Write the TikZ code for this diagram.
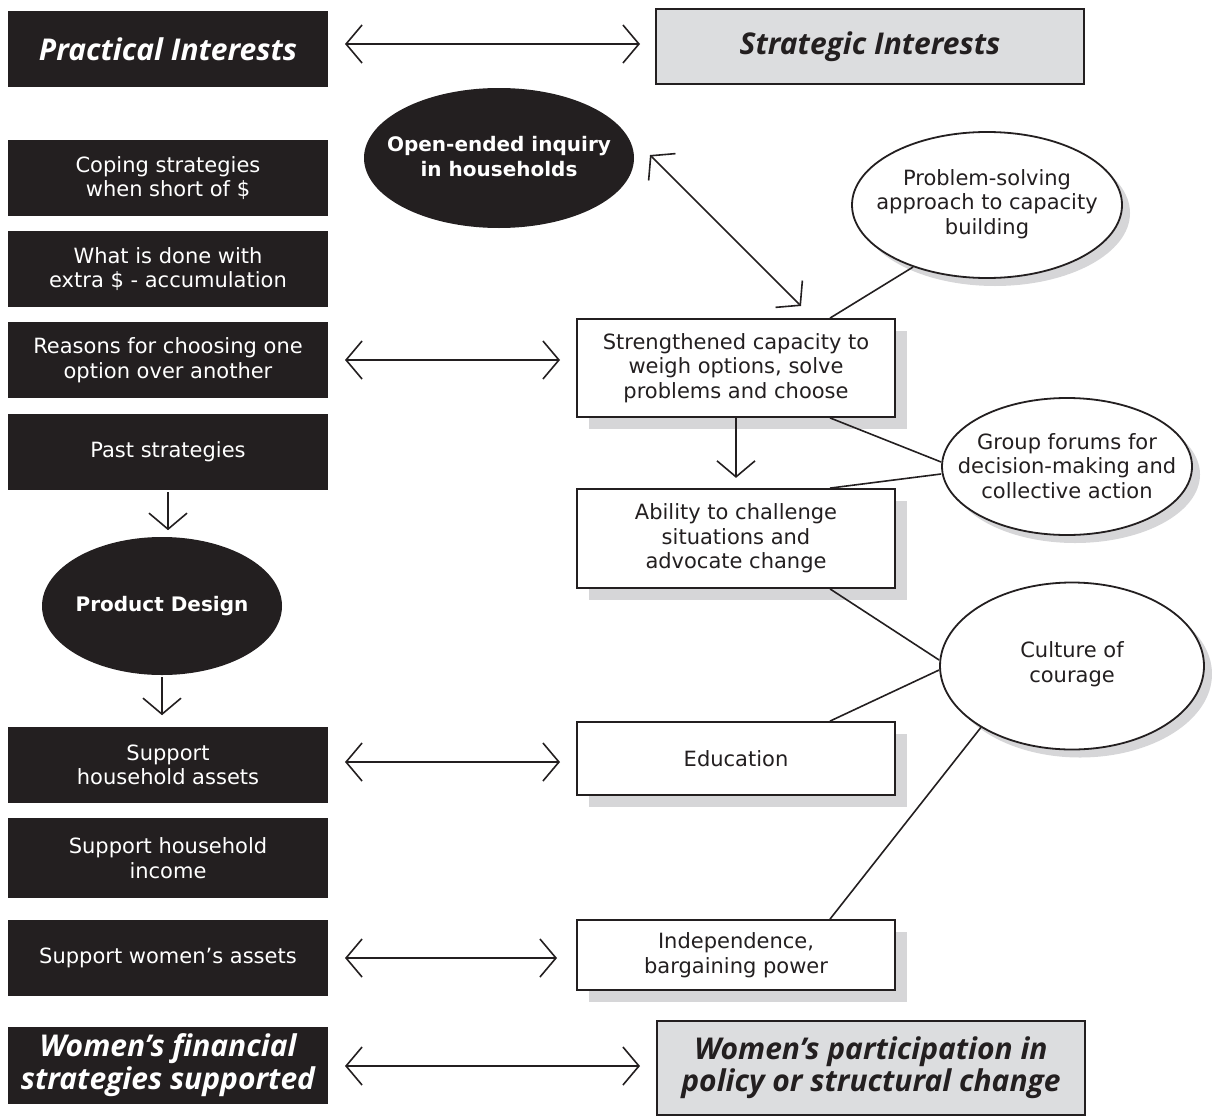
\documentclass[tikz,border=0pt]{standalone}
\usepackage{fontspec}
\setmainfont{DejaVu Sans}
\newfontfamily\titlefont{Open Sans}
\usetikzlibrary{arrows.meta,shadows,shapes.geometric}
\definecolor{boxblack}{HTML}{231F20}
\definecolor{boxgray}{HTML}{DCDDDF}
\definecolor{shadowgray}{HTML}{D6D6D8}
\tikzset{
  bodyfont/.style={font=\fontsize{21}{24.5}\selectfont},
  blackbox/.style={rectangle,fill=boxblack,text=white,minimum width=320pt,minimum height=76pt,inner sep=0pt,align=center,bodyfont},
  titlebox/.style={blackbox,font=\titlefont\fontsize{30}{33}\selectfont\bfseries\itshape},
  graybox/.style={rectangle,fill=boxgray,draw=boxblack,line width=2pt,minimum width=428pt,minimum height=75pt,inner sep=0pt,align=center,text=boxblack,font=\titlefont\fontsize{30}{32}\selectfont\bfseries\itshape},
  whitebox/.style={rectangle,fill=white,draw=boxblack,line width=1.8pt,minimum width=318pt,inner sep=0pt,align=center,text=boxblack,bodyfont,
    drop shadow={shadow xshift=12pt,shadow yshift=-12pt,fill=shadowgray,opacity=1}},
  blackell/.style={ellipse,fill=boxblack,inner sep=0pt},
  whiteell/.style={ellipse,fill=white,draw=boxblack,line width=1.8pt,inner sep=0pt,
    drop shadow={shadow xshift=8pt,shadow yshift=-8pt,fill=shadowgray,opacity=1}},
  blacktext/.style={text=white,align=center,inner sep=0pt,font=\fontsize{20}{25}\selectfont\bfseries},
  whitetext/.style={text=boxblack,align=center,inner sep=0pt,bodyfont},
  barb/.tip={Straight Barb[length=16pt,width=38pt,line width=1.6pt]},
  biarrow/.style={line width=1.6pt,draw=boxblack,{barb}-{barb}},
  downarrow/.style={line width=1.6pt,draw=boxblack,-{barb}},
  link/.style={line width=1.6pt,draw=boxblack},
}
\begin{document}
\begin{tikzpicture}[x=1pt,y=-1pt]
\useasboundingbox (0,0) rectangle (1212,1116);
% left column
\node[titlebox] (pi) at (168,49) {Practical Interests};
\node[graybox] (si) at (870,46.5) {Strategic Interests};
\node[blackbox] (cope) at (168,178) {Coping strategies\\when short of \$};
\node[blackbox] (extra) at (168,269) {What is done with\\extra \$ - accumulation};
\node[blackbox] (reas) at (168,360) {Reasons for choosing one\\option over another};
\node[blackbox] (past) at (168,452) {Past strategies};
\node[blackell,minimum width=240pt,minimum height=138pt] (pd) at (162,606) {};
\node[blacktext] (pdt) at (pd) {Product Design};
\node[blackbox] (sha) at (168,765) {Support\\household assets};
\node[blackbox,minimum height=80pt] (shi) at (168,858) {Support household\\income};
\node[blackbox] (swa) at (168,958) {Support women’s assets};
\node[titlebox,minimum height=77pt] (wfs) at (168,1065.5) {Women’s financial\\strategies supported};
\node[graybox,minimum height=94pt] (wp) at (871,1068) {Women’s participation in\\policy or structural change};
% middle
\node[blackell,minimum width=270pt,minimum height=140pt] (oe) at (499,158) {};
\node[blacktext] (oet) at (499,157) {Open-ended inquiry\\in households};
\node[whitebox,minimum height=98pt] (sc) at (736,368) {Strengthened capacity to\\weigh options, solve\\problems and choose};
\node[whitebox,minimum height=99pt] (ab) at (736,538.5) {Ability to challenge\\situations and\\advocate change};
\node[whitebox,minimum height=73pt] (ed) at (736,758.5) {Education};
\node[whitebox,minimum height=70pt] (ind) at (736,955) {Independence,\\bargaining power};
% right ellipses
\node[whiteell,minimum width=270pt,minimum height=146pt] (ps) at (987,205) {};
\node[whitetext] (pst) at (987,204) {Problem-solving\\approach to capacity\\building};
\node[whiteell,minimum width=250pt,minimum height=137pt] (gf) at (1067,466.5) {};
\node[whitetext] (gft) at (1067,466) {Group forums for\\decision-making and\\collective action};
\node[whiteell,minimum width=264pt,minimum height=167pt] (cc) at (1072,666) {};
\node[whitetext] (cct) at (1072,664) {Culture of\\courage};
% coordinates for arrows
\coordinate (a1l) at (345,44); \coordinate (a1r) at (640,44);
\coordinate (a2l) at (345,360); \coordinate (a2r) at (560,360);
\coordinate (a3l) at (345,762); \coordinate (a3r) at (560,762);
\coordinate (a4l) at (345,958); \coordinate (a4r) at (557,958);
\coordinate (a5l) at (345,1066); \coordinate (a5r) at (640,1066);
\coordinate (d1) at (650,155); \coordinate (d2) at (801,306);
\draw[biarrow] (a1l) -- (a1r);
\draw[biarrow] (a2l) -- (a2r);
\draw[biarrow] (a3l) -- (a3r);
\draw[biarrow] (a4l) -- (a4r);
\draw[biarrow] (a5l) -- (a5r);
\draw[biarrow] (d1) -- (d2);
\draw[downarrow] (past.south) ++(0,2) -- ++(0,38);
\draw[downarrow] (pd.south) ++(0,2) -- ++(0,38);
\draw[downarrow] (sc.south) -- ++(0,60);
% links
\draw[link] ([xshift=94pt]sc.north) -- (ps.-140);
\draw[link] ([xshift=94pt]sc.south) -- (gf.west |- 0,462);
\draw[link] ([xshift=94pt]ab.north) -- (gf.west |- 0,474);
\draw[link] ([xshift=94pt]ab.south) -- (cc.west |- 0,660);
\draw[link] ([xshift=94pt]ed.north) -- (cc.west |- 0,670);
\draw[link] ([xshift=94pt]ind.north) -- (cc.-146);
\end{tikzpicture}
\end{document}
